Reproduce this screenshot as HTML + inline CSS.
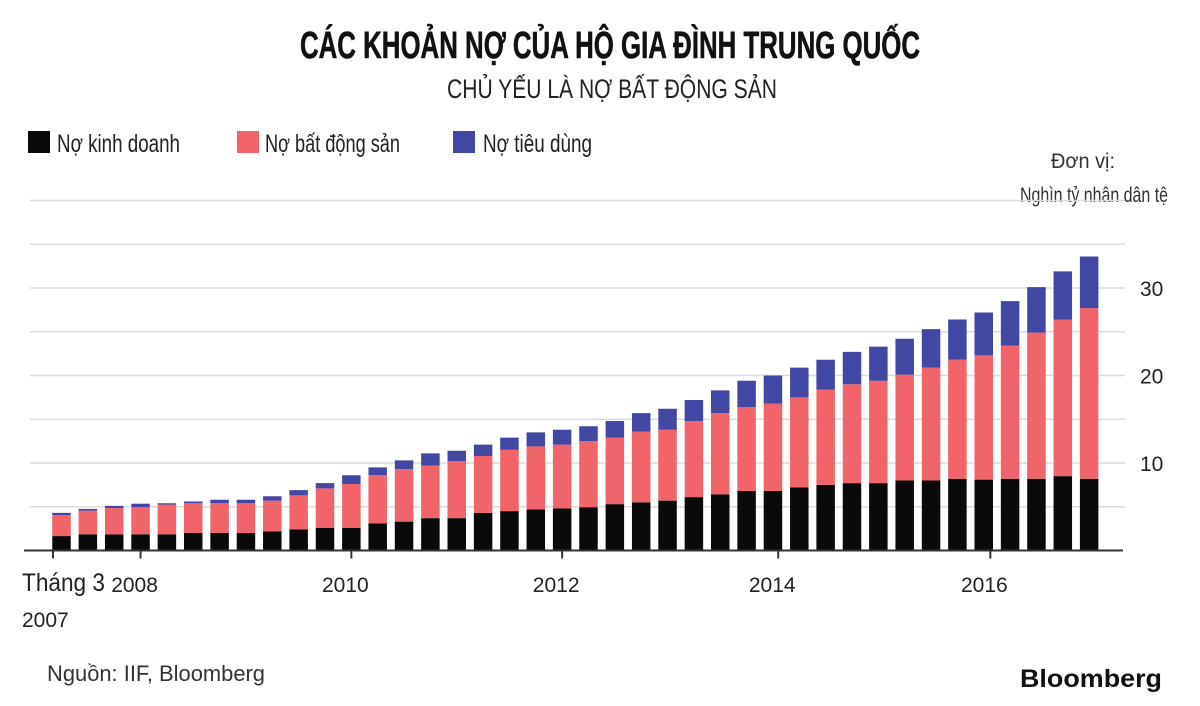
<!DOCTYPE html>
<html><head><meta charset="utf-8"><style>
body{margin:0;background:#fff;}
svg{display:block;font-family:"Liberation Sans",sans-serif;}
.n{font-family:"Liberation Sans Narrow","Liberation Sans",sans-serif;}
</style></head><body>
<svg id="c" width="1200" height="706" viewBox="0 0 1200 706">
<text class="n" x="610" y="58" text-anchor="middle" font-size="38" font-weight="bold" fill="#111" stroke="#111" stroke-width="0.6" textLength="620" lengthAdjust="spacingAndGlyphs">CÁC KHOẢN NỢ CỦA HỘ GIA ĐÌNH TRUNG QUỐC</text>
<text class="n" x="612" y="98" text-anchor="middle" font-size="27" fill="#222" textLength="330" lengthAdjust="spacingAndGlyphs">CHỦ YẾU LÀ NỢ BẤT ĐỘNG SẢN</text>
<g>
<rect x="28" y="131" width="22" height="22" fill="#0a0a0a"/>
<text class="n" x="57" y="152" font-size="25" fill="#222" textLength="123" lengthAdjust="spacingAndGlyphs">Nợ kinh doanh</text>
<rect x="237" y="131" width="22" height="22" fill="#f0646a"/>
<text class="n" x="265" y="152" font-size="25" fill="#222" textLength="135" lengthAdjust="spacingAndGlyphs">Nợ bất động sản</text>
<rect x="453" y="131" width="22" height="22" fill="#4347a4"/>
<text class="n" x="483" y="152" font-size="25" fill="#222" textLength="109" lengthAdjust="spacingAndGlyphs">Nợ tiêu dùng</text>
</g>
<text class="n" x="1115" y="168" text-anchor="end" font-size="21" fill="#333" textLength="64" lengthAdjust="spacingAndGlyphs">Đơn vị:</text>
<text class="n" x="1168" y="202" text-anchor="end" font-size="21" fill="#333" textLength="148" lengthAdjust="spacingAndGlyphs">Nghìn tỷ nhân dân tệ</text>
<g id="grid"></g><g id="bars"></g><g id="axis"></g>
<text class="n" x="47" y="681" font-size="22" fill="#333" textLength="218" lengthAdjust="spacingAndGlyphs">Nguồn: IIF, Bloomberg</text>
<text x="1162" y="687" text-anchor="end" font-size="25" font-weight="bold" fill="#111" textLength="142" lengthAdjust="spacingAndGlyphs">Bloomberg</text>
</svg>
<script>
const business=[1.65,1.85,1.85,1.85,1.85,2.0,2.0,2.0,2.2,2.4,2.6,2.6,3.1,3.3,3.7,3.7,4.3,4.5,4.7,4.8,4.95,5.3,5.5,5.7,6.1,6.4,6.8,6.8,7.2,7.5,7.7,7.7,8.0,8.0,8.2,8.1,8.2,8.2,8.5,8.2];
const property=[2.4,2.7,3.0,3.1,3.4,3.4,3.4,3.4,3.5,3.9,4.5,5.0,5.5,6.0,6.0,6.5,6.5,7.0,7.2,7.3,7.55,7.6,8.1,8.1,8.7,9.3,9.6,10.0,10.3,10.9,11.3,11.7,12.1,12.9,13.6,14.2,15.2,16.7,17.9,19.5];
const consumer=[0.25,0.2,0.25,0.4,0.15,0.2,0.4,0.4,0.5,0.6,0.6,1.0,0.9,1.0,1.4,1.2,1.3,1.4,1.6,1.7,1.7,1.9,2.1,2.4,2.4,2.6,3.0,3.2,3.4,3.4,3.7,3.9,4.1,4.4,4.6,4.9,5.1,5.2,5.5,5.9];
const yTicks=[10,20,30];
const gridVals=[5,10,15,20,25,30,35,40];
const yearLabels=["2008","2010","2012","2014","2016"];
const yearIdx=[3.0,11.0,19.0,27.2,35.25];
const NS="http://www.w3.org/2000/svg";
const y0=550.5,ppu=8.75,x0=61.5,slot=26.35,bw=18.5;
const Y=v=>y0-v*ppu, X=i=>x0+i*slot;
function mk(t,a,p){const e=document.createElementNS(NS,t);for(const k in a)e.setAttribute(k,a[k]);p.appendChild(e);return e;}
const G=document.getElementById('grid'),B=document.getElementById('bars'),A=document.getElementById('axis');
gridVals.forEach(v=>{const l=mk('line',{x1:30,x2:1125,y1:Y(v),y2:Y(v),stroke:'#dcdcdc','stroke-width':1.5},G);

});
yTicks.forEach(v=>{const t=mk('text',{x:1140,y:Y(v)+8,'font-size':21,fill:'#222'},A);t.textContent=v;

});
business.forEach((b,i)=>{const p=property[i],c=consumer[i];
const r1=mk('rect',{x:X(i)-bw/2,y:Y(b),width:bw,height:b*ppu,fill:'#0a0a0a'},B);


const r2=mk('rect',{x:X(i)-bw/2,y:Y(b+p),width:bw,height:p*ppu,fill:'#f0646a'},B);


const r3=mk('rect',{x:X(i)-bw/2,y:Y(b+p+c),width:bw,height:c*ppu,fill:'#4347a4'},B);

});
const ax=mk('line',{x1:24,x2:1123,y1:y0,y2:y0,stroke:'#333','stroke-width':2},A);


const t0=mk('line',{x1:53,x2:53,y1:y0,y2:y0+8,stroke:'#333','stroke-width':2},A);


yearLabels.forEach((s,k)=>{const x=X(yearIdx[k]);
const tk=mk('line',{x1:x,x2:x,y1:y0,y2:y0+8,stroke:'#333','stroke-width':2},A);


const t=mk('text',{x:x-6,y:592,'font-size':21,fill:'#222','text-anchor':'middle'},A);t.textContent=s;

});
const f1=mk('text',{x:22,y:591,'font-size':25,fill:'#222','class':'n',textLength:83,lengthAdjust:'spacingAndGlyphs'},A);f1.textContent='Tháng 3';


const f2=mk('text',{x:22,y:627,'font-size':21,fill:'#222'},A);f2.textContent='2007';


</script>
</body></html>
